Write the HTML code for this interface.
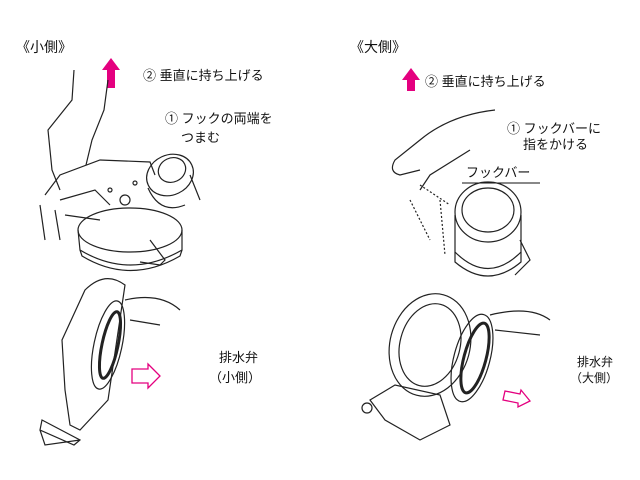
<!DOCTYPE html>
<html><head><meta charset="utf-8"><style>
html,body{margin:0;padding:0;background:#fff;width:640px;height:480px;overflow:hidden}
svg{position:absolute;left:0;top:0}
text{font-family:"Liberation Sans","Noto Sans CJK JP",sans-serif;fill:#111}
</style></head><body>
<svg width="640" height="480" viewBox="0 0 640 480">
<g font-size="14">
<text x="16" y="52">《小側》</text>
<text x="350" y="52">《大側》</text>
</g>
<g font-size="13">
<text x="143" y="80">② 垂直に持ち上げる</text>
<text x="165" y="123">① フックの両端を</text>
<text x="181" y="142">つまむ</text>
<text x="425" y="86">② 垂直に持ち上げる</text>
<text x="507" y="133">① フックバーに</text>
<text x="523" y="149">指をかける</text>
<text x="466" y="177">フックバー</text>
<text x="219" y="362">排水弁</text>
<text x="209" y="382">（小側）</text>
</g>
<g font-size="12">
<text x="577" y="366">排水弁</text>
<text x="570" y="382">（大側）</text>
</g>
<line x1="462" y1="183" x2="540" y2="183" stroke="#111"/>
<polygon points="111,58 102,70 107,70 107,88 115,88 115,70 120,70" fill="#e4007f"/>
<polygon points="411,68 402,80 407,80 407,91 415,91 415,80 420,80" fill="#e4007f"/>
<polygon points="132,369 148,369 148,364 160,376 148,388 148,383 132,383" fill="none" stroke="#e4007f" stroke-width="1.3"/>
<polygon points="505,391 520,394 521,390 530,401 518,407 518,403 503,400" fill="none" stroke="#e4007f" stroke-width="1.3"/>
<g fill="none" stroke="#222" stroke-width="1.2">
<!-- left top hand -->
<path d="M74 70 L72 100 L48 130 L52 170 L60 190 M108 80 L104 110 L92 140 L86 165"/>
<!-- left device -->
<path d="M45 195 L60 175 L100 160 L150 162 L155 175"/>
<path d="M40 205 L45 240 M55 210 L60 240 M60 200 L95 190 L110 205 M65 215 L100 220"/>
<ellipse cx="130" cy="230" rx="52" ry="22"/>
<path d="M78 230 L80 250 Q130 280 182 250 L182 230"/>
<path d="M80 250 L82 256 Q130 285 180 256 L182 250"/>
<ellipse cx="170" cy="175" rx="24" ry="20" transform="rotate(-25 170 175)"/>
<ellipse cx="172" cy="170" rx="14" ry="12" transform="rotate(-25 172 170)"/>
<path d="M148 188 Q160 215 185 205"/>
<circle cx="125" cy="200" r="5"/>
<circle cx="110" cy="190" r="2"/><circle cx="135" cy="183" r="2"/>
<path d="M190 175 L200 200 M150 240 L165 260 L160 265 L140 262"/>
<!-- right top hand -->
<path d="M495 110 Q450 115 420 140 L395 160 Q388 172 400 175 L420 170 M470 150 L430 175 L420 190"/>
<!-- right device -->
<ellipse cx="488" cy="212" rx="33" ry="30"/>
<ellipse cx="488" cy="210" rx="26" ry="22"/>
<path d="M455 215 L455 252 Q488 285 521 252 L521 215"/>
<path d="M455 252 L455 262 Q488 290 521 262 L521 252"/>
<path d="M420 185 L450 205 M410 200 L430 240 M440 200 L445 255" stroke-dasharray="2 2"/>
<path d="M520 240 L530 260 L515 275"/>
<!-- bottom left -->
<path d="M85 290 Q105 270 125 285 L108 400 L80 430 L70 425 L65 390 L62 340 Z"/>
<path d="M42 420 L80 440 L74 445 L40 430 Z M40 430 L45 445 L80 440"/>
<ellipse cx="108" cy="345" rx="14" ry="45" transform="rotate(12 108 345)"/>
<ellipse cx="110" cy="345" rx="8" ry="34" transform="rotate(12 110 345)" stroke-width="3"/>
<path d="M125 300 Q160 292 180 310 M130 320 L160 325"/>
<!-- bottom right -->
<ellipse cx="430" cy="345" rx="40" ry="52" transform="rotate(15 430 345)"/>
<ellipse cx="430" cy="345" rx="30" ry="42" transform="rotate(15 430 345)"/>
<ellipse cx="472" cy="358" rx="18" ry="45" transform="rotate(15 472 358)"/>
<ellipse cx="475" cy="358" rx="11" ry="36" transform="rotate(15 475 358)" stroke-width="3"/>
<path d="M370 400 L395 385 L440 395 L450 425 L420 440 L385 420 Z"/>
<circle cx="367" cy="408" r="5"/>
<path d="M490 315 Q530 305 550 320 M495 330 L540 335"/>
</g>
</svg>
</body></html>
